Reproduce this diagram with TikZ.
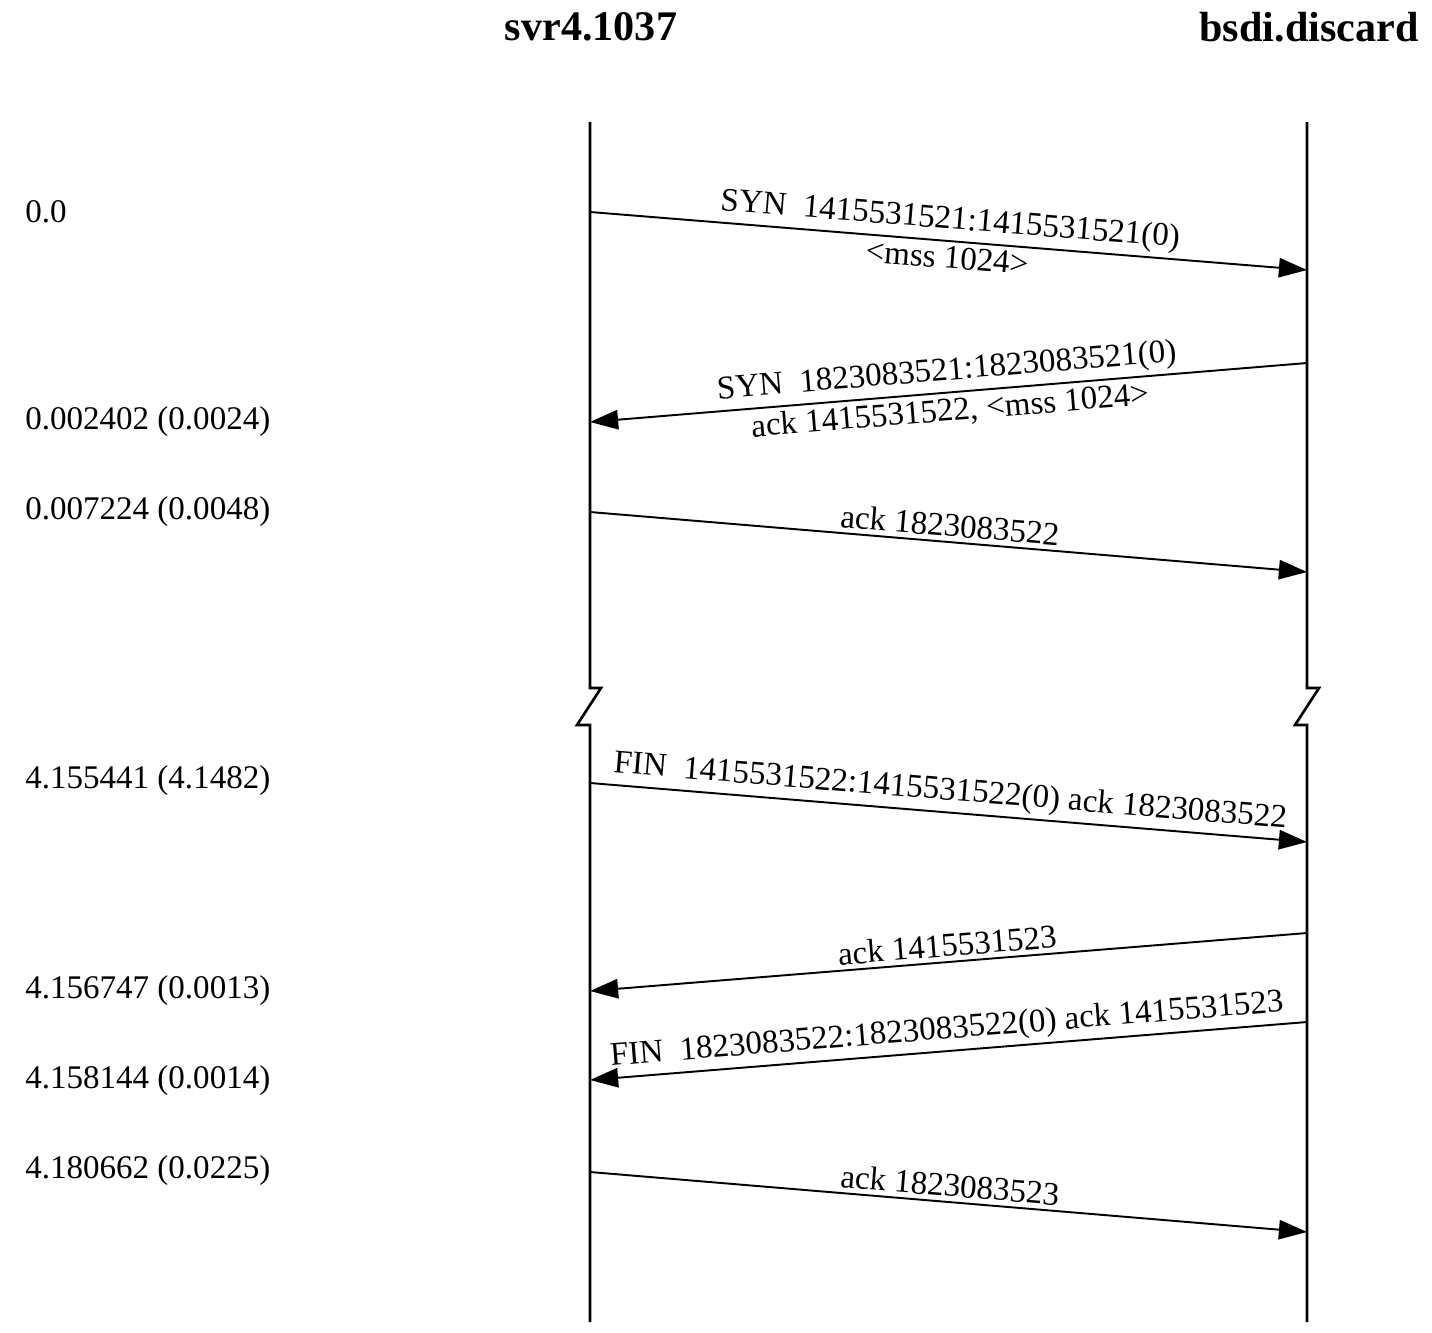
\documentclass[tikz,border=0pt]{standalone}
\usepackage{fontspec}
\setmainfont{Liberation Serif}
\usetikzlibrary{arrows.meta}

\begin{document}
\begin{tikzpicture}[x=0.02cm,y=-0.02cm,
  every node/.style={font=\fontsize{18.8}{21}\selectfont},
  host/.style={font=\fontsize{24}{27}\selectfont\bfseries},
  lifeline/.style={line width=1.5pt},
  msg/.style={line width=1.1pt,-{Triangle[length=16pt,width=11pt]}},
  stamp/.style={anchor=west,inner sep=0pt},
  lbl/.style={sloped,inner sep=2.5pt}]
\useasboundingbox (0,0) rectangle (1432,1332);
% the two ends
\node[host] (svr) at (591,27) {svr4.1037};
\node[host] (bsdi) at (1309,27) {bsdi.discard};
% lifelines, broken between the two halves
\draw[lifeline] (590,122) -- (590,688) -- (601,688) -- (577,725) -- (590,725) -- (590,1322);
\draw[lifeline] (1307,122) -- (1307,688) -- (1319,688) -- (1295,725) -- (1307,725) -- (1307,1322);
% points on the lifelines
\coordinate (s1) at (590,212);   \coordinate (b1) at (1307,270);
\coordinate (b2) at (1307,363);  \coordinate (s2) at (590,422);
\coordinate (s3) at (590,512);   \coordinate (b3) at (1307,572);
\coordinate (s4) at (590,783);   \coordinate (b4) at (1307,842);
\coordinate (b5) at (1307,933);  \coordinate (s5) at (590,991);
\coordinate (b6) at (1307,1022); \coordinate (s6) at (590,1080);
\coordinate (s7) at (590,1172);  \coordinate (b7) at (1307,1232);
% times
\node[stamp] (t1) at (25,212) {0.0};
\node[stamp] (t2) at (25,422) {0.002402 (0.0024)};
\node[stamp] (t3) at (25,512) {0.007224 (0.0048)};
\node[stamp] (t4) at (25,781) {4.155441 (4.1482)};
\node[stamp] (t5) at (25,991) {4.156747 (0.0013)};
\node[stamp] (t6) at (25,1081) {4.158144 (0.0014)};
\node[stamp] (t7) at (25,1171) {4.180662 (0.0225)};
% segments
\draw[msg] (s1) -- node[lbl,above] (m1) {SYN\enspace 1415531521:1415531521(0)}
                   node[lbl,below] (o1) {<mss 1024>} (b1);
\draw[msg] (b2) -- node[lbl,above] (m2) {SYN\enspace 1823083521:1823083521(0)}
                   node[lbl,below] (o2) {ack 1415531522, <mss 1024>} (s2);
\draw[msg] (s3) -- node[lbl,above] (m3) {ack 1823083522} (b3);
\draw[msg] (s4) -- node[lbl,above] (m4) {FIN\enspace 1415531522:1415531522(0) ack 1823083522} (b4);
\draw[msg] (b5) -- node[lbl,above] (m5) {ack 1415531523} (s5);
\draw[msg] (b6) -- node[lbl,above] (m6) {FIN\enspace 1823083522:1823083522(0) ack 1415531523} (s6);
\draw[msg] (s7) -- node[lbl,above] (m7) {ack 1823083523} (b7);
\end{tikzpicture}
\end{document}
